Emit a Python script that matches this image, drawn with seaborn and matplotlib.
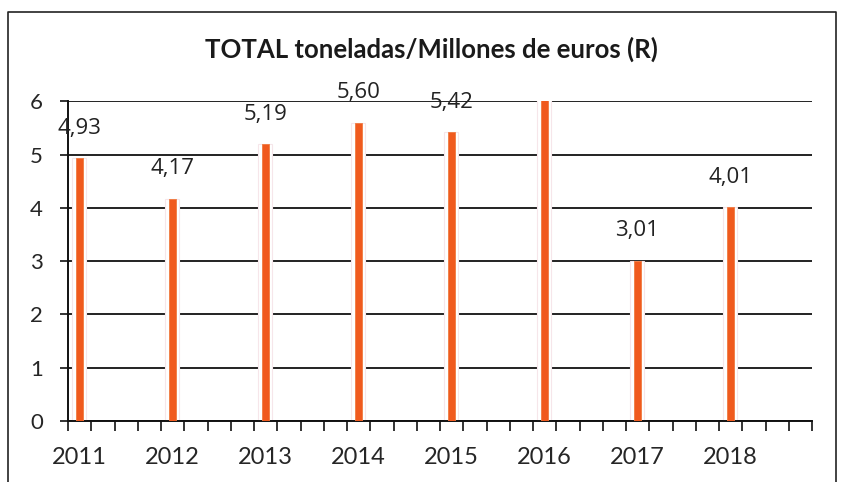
import numpy as np
import pandas as pd
import matplotlib
matplotlib.use("Agg")
import matplotlib.pyplot as plt
import seaborn as sns

# data
years = [2011, 2012, 2013, 2014, 2015, 2016, 2017, 2018]
values = [4.93, 4.17, 5.19, 5.60, 5.42, 6.10, 3.01, 4.01]
labels = ["4,93", "4,17", "5,19", "5,60", "5,42", "", "3,01", "4,01"]
title = "TOTAL toneladas/Millones de euros (R)"

df = pd.DataFrame({"year": years, "value": values})
df["pos"] = df["year"] + 0.12

sns.set_style("white")
plt.rcParams["font.family"] = ["Lato", "DejaVu Sans"]

fig = plt.figure(figsize=(8.45, 4.82), dpi=100)
ax = fig.add_axes([0.0805, 0.1266, 0.8805, 0.6634])

# white halo behind each bar (breaks the gridlines like the original)
sns.barplot(data=df, x="pos", y="value", native_scale=True, width=0.15,
            color="white", edgecolor="#f6e6ea", linewidth=0.8,
            saturation=1, zorder=2, ax=ax)
sns.barplot(data=df, x="pos", y="value", native_scale=True, width=0.075,
            color="#f05a1e", edgecolor="#f07a40", linewidth=0.6,
            saturation=1, zorder=3, ax=ax)

for x, v, lab in zip(df["pos"], df["value"], labels):
    if lab:
        ax.annotate(lab, (x, v), xytext=(0, 14), textcoords="offset points",
                    ha="center", va="bottom", fontsize=16,
                    family=["Open Sans", "DejaVu Sans"], color="#222222",
                    annotation_clip=False, zorder=4)

ax.set_xlim(2011, 2019)
ax.set_ylim(0, 6)
ax.set_yticks(range(0, 7))
ax.yaxis.grid(True, color="#111111", linewidth=1.3, zorder=0)
ax.xaxis.grid(False)
ax.set_axisbelow(True)

ax.set_xticks(df["pos"])
ax.set_xticklabels([str(y) for y in years])
ax.set_xticks(np.arange(2011, 2019.01, 0.25), minor=True)
ax.tick_params(axis="x", which="major", length=0, pad=19, labelsize=17)
ax.tick_params(axis="x", which="minor", length=7, width=1.2, color="#111111",
               direction="out", bottom=True)
ax.tick_params(axis="y", length=6, width=1.2, color="#111111", pad=12,
               labelsize=16, left=True, direction="out")
ax.set_xlabel("")
ax.set_ylabel("")

for s in ["top", "right"]:
    ax.spines[s].set_visible(False)
for s in ["left", "bottom"]:
    ax.spines[s].set_color("#111111")
    ax.spines[s].set_linewidth(1.4)

fig.text(0.51, 0.897, title, ha="center", va="center", fontsize=18.5,
         fontweight="bold", color="#1a1a1a")

# outer chart frame
fig.add_artist(plt.Line2D([0.010, 0.010, 0.989, 0.989], [0.0, 0.975, 0.975, 0.0],
                          transform=fig.transFigure, color="#222222", linewidth=1.2))

fig.savefig("out.png", dpi=100)
